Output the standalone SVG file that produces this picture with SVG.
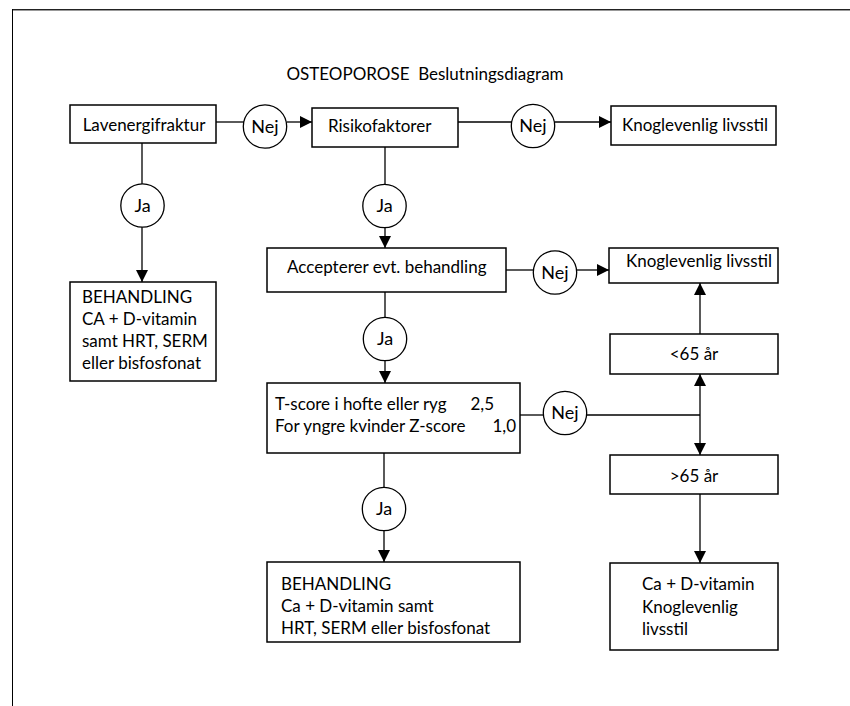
<svg xmlns="http://www.w3.org/2000/svg" width="850" height="706" viewBox="0 0 850 706">
<defs>
<marker id="arr" viewBox="0 0 12 12" refX="12" refY="6" markerWidth="12" markerHeight="12" markerUnits="userSpaceOnUse" orient="auto">
<path d="M0,0 L12,6 L0,12 Z" fill="#000"/>
</marker>
<style>
.box{fill:#fff;stroke:#000;stroke-width:1.5}
.circ{fill:#fff;stroke:#000;stroke-width:1.3}
.ln{fill:none;stroke:#000;stroke-width:1.3}
.t{font-family:Lato,"Open Sans","Liberation Sans",sans-serif;font-size:17px;fill:#000}
.c{text-anchor:middle}
.e{text-anchor:end}
.lbl{font-size:18px}
</style>
</defs>
<rect width="850" height="706" fill="#fff"/>
<g id="frame">
<line x1="12" y1="10.5" x2="850" y2="10.5" stroke="#999" stroke-width="1"/>
<line x1="12" y1="9.5" x2="850" y2="9.5" stroke="#222" stroke-width="1"/>
<line x1="12.5" y1="9" x2="12.5" y2="706" stroke="#000" stroke-width="1"/>
</g>
<text id="title" class="t c" x="425" y="80" xml:space="preserve">OSTEOPOROSE  Beslutningsdiagram</text>

<g id="connectors">
<line class="ln" x1="216" y1="122" x2="244" y2="122"/>
<line class="ln" x1="287" y1="122" x2="312" y2="122" marker-end="url(#arr)"/>
<line class="ln" x1="458" y1="122" x2="512" y2="122"/>
<line class="ln" x1="555" y1="122" x2="611" y2="122" marker-end="url(#arr)"/>
<line class="ln" x1="142" y1="143" x2="142" y2="184"/>
<line class="ln" x1="142" y1="227" x2="142" y2="282" marker-end="url(#arr)"/>
<line class="ln" x1="385" y1="147" x2="385" y2="184"/>
<line class="ln" x1="385" y1="228" x2="385" y2="248" marker-end="url(#arr)"/>
<line class="ln" x1="506" y1="270" x2="534" y2="270"/>
<line class="ln" x1="577" y1="270" x2="609" y2="270" marker-end="url(#arr)"/>
<line class="ln" x1="385" y1="292" x2="385" y2="317"/>
<line class="ln" x1="385" y1="361" x2="385" y2="383" marker-end="url(#arr)"/>
<line class="ln" x1="520" y1="415" x2="544" y2="415"/>
<line class="ln" x1="587" y1="415" x2="700" y2="415"/>
<line class="ln" x1="700" y1="415" x2="700" y2="374" marker-end="url(#arr)"/>
<line class="ln" x1="700" y1="415" x2="700" y2="455" marker-end="url(#arr)"/>
<line class="ln" x1="700" y1="334" x2="700" y2="283" marker-end="url(#arr)"/>
<line class="ln" x1="384" y1="453" x2="384" y2="487"/>
<line class="ln" x1="384" y1="531" x2="384" y2="562" marker-end="url(#arr)"/>
<line class="ln" x1="700" y1="494" x2="700" y2="563" marker-end="url(#arr)"/>
</g>

<g id="lavenergifraktur">
<rect class="box" x="70" y="105" width="146" height="38"/>
<text class="t c" x="144" y="131">Lavenergifraktur</text>
</g>
<g id="nej1">
<circle class="circ" cx="265" cy="126.5" r="21.7"/>
<text class="t c lbl" x="265" y="132.5">Nej</text>
</g>
<g id="risikofaktorer">
<rect class="box" x="312" y="108" width="146" height="39"/>
<text class="t" x="328" y="132">Risikofaktorer</text>
</g>
<g id="nej2">
<circle class="circ" cx="533" cy="126" r="21.7"/>
<text class="t c lbl" x="533" y="132">Nej</text>
</g>
<g id="knoglevenlig1">
<rect class="box" x="611" y="106" width="165" height="39"/>
<text class="t c" x="695" y="131">Knoglevenlig livsstil</text>
</g>
<g id="ja1">
<circle class="circ" cx="142.5" cy="205.5" r="21.7"/>
<text class="t c lbl" x="142.5" y="211.5">Ja</text>
</g>
<g id="behandling1">
<rect class="box" x="70" y="282" width="146" height="99"/>
<text class="t" x="82" y="303">BEHANDLING</text>
<text class="t" x="82" y="325">CA + D-vitamin</text>
<text class="t" x="82" y="347">samt HRT, SERM</text>
<text class="t" x="82" y="369">eller bisfosfonat</text>
</g>
<g id="ja2">
<circle class="circ" cx="384.5" cy="206" r="21.7"/>
<text class="t c lbl" x="384.5" y="212">Ja</text>
</g>
<g id="accepterer">
<rect class="box" x="267" y="248" width="239" height="44"/>
<text class="t" x="287" y="273">Accepterer evt. behandling</text>
</g>
<g id="nej3">
<circle class="circ" cx="555" cy="272.5" r="21.7"/>
<text class="t c lbl" x="555" y="278.5">Nej</text>
</g>
<g id="knoglevenlig2">
<rect class="box" x="609" y="248" width="169" height="35"/>
<text class="t c" x="699" y="267">Knoglevenlig livsstil</text>
</g>
<g id="ja3">
<circle class="circ" cx="385" cy="339" r="21.7"/>
<text class="t c lbl" x="385" y="345">Ja</text>
</g>
<g id="under65">
<rect class="box" x="610" y="334" width="168" height="40"/>
<text class="t c" x="694" y="360">&lt;65 år</text>
</g>
<g id="tscore">
<rect class="box" x="267" y="383" width="253" height="70"/>
<text class="t" x="275" y="410">T-score i hofte eller ryg</text>
<text class="t e" x="494" y="410">2,5</text>
<text class="t" x="275" y="432">For yngre kvinder Z-score</text>
<text class="t e" x="516" y="432">1,0</text>
</g>
<g id="nej4">
<circle class="circ" cx="565" cy="413" r="21.7"/>
<text class="t c lbl" x="565" y="419">Nej</text>
</g>
<g id="over65">
<rect class="box" x="610" y="455" width="168" height="39"/>
<text class="t c" x="694" y="482">&gt;65 år</text>
</g>
<g id="ja4">
<circle class="circ" cx="384" cy="509" r="21.7"/>
<text class="t c lbl" x="384" y="515">Ja</text>
</g>
<g id="behandling2">
<rect class="box" x="267" y="562" width="253" height="80"/>
<text class="t" x="281" y="590">BEHANDLING</text>
<text class="t" x="281" y="612">Ca + D-vitamin samt</text>
<text class="t" x="281" y="634">HRT, SERM eller bisfosfonat</text>
</g>
<g id="cadvitamin">
<rect class="box" x="610" y="563" width="168" height="87"/>
<text class="t" x="642" y="590">Ca + D-vitamin</text>
<text class="t" x="642" y="613">Knoglevenlig</text>
<text class="t" x="642" y="635">livsstil</text>
</g>
</svg>
